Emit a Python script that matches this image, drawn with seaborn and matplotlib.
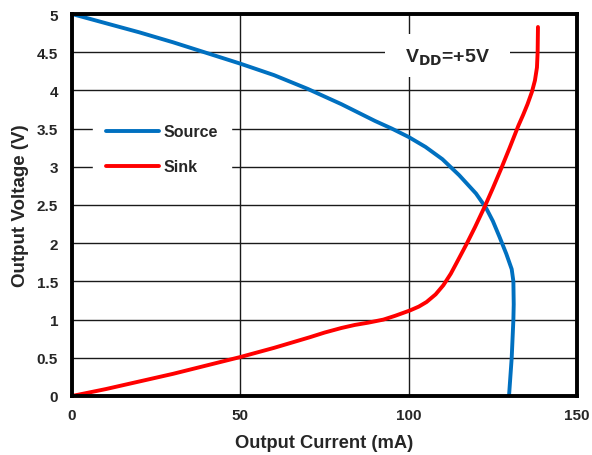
import numpy as np
import pandas as pd
import matplotlib
matplotlib.use("Agg")
import matplotlib.pyplot as plt
from matplotlib.patches import Rectangle
import seaborn as sns

# Source curve: output current (mA) vs output voltage (V)
source_current = [0, 10, 20, 30, 40, 50, 60, 70, 80, 90, 95, 100, 105, 110, 115, 120, 123, 125,
                  127, 129, 130.6, 131.1, 131.2, 131.1, 130.6, 129.8]
source_voltage = [5.0, 4.88, 4.76, 4.63, 4.49, 4.35, 4.2, 4.02, 3.82, 3.6, 3.5, 3.39, 3.26, 3.1,
                  2.89, 2.65, 2.46, 2.29, 2.08, 1.86, 1.66, 1.5, 1.2, 1.0, 0.5, 0.0]

# Sink curve
sink_current = [0, 10, 20, 30, 40, 50, 60, 70.7, 75, 80, 84, 88, 92.5, 96, 100.4, 103, 105.3,
                108, 110.3, 112.5, 114.2, 117.2, 119.7, 122.7, 125, 127.6, 130, 132.6, 134,
                135.3, 136.6, 137.5, 138.1, 138.3, 138.4]
sink_voltage = [0.0, 0.09, 0.19, 0.29, 0.4, 0.51, 0.63, 0.77, 0.83, 0.89, 0.93, 0.96, 1.0, 1.05,
                1.12, 1.17, 1.23, 1.33, 1.45, 1.6, 1.74, 1.99, 2.21, 2.49, 2.72, 2.99, 3.25,
                3.54, 3.68, 3.82, 3.98, 4.13, 4.3, 4.5, 4.83]

x_ticks = [0, 50, 100, 150]
y_ticks = [0, 0.5, 1, 1.5, 2, 2.5, 3, 3.5, 4, 4.5, 5]
y_tick_labels = ["0", "0.5", "1", "1.5", "2", "2.5", "3", "3.5", "4", "4.5", "5"]

sns.set_theme(style="white")
plt.rcParams["font.family"] = ["Liberation Sans", "DejaVu Sans"]
plt.rcParams["font.weight"] = "bold"

fig = plt.figure(figsize=(5.92, 4.56), dpi=100)
ax = fig.add_axes([0.1216, 0.1294, 0.8531, 0.8377])

src = pd.DataFrame({"current": source_current, "voltage": source_voltage})
snk = pd.DataFrame({"current": sink_current, "voltage": sink_voltage})

sns.lineplot(data=src, x="current", y="voltage", sort=False, estimator=None,
             color="#0070C0", linewidth=2.8, label="Source", ax=ax, zorder=3,
             solid_capstyle="round", solid_joinstyle="round")
sns.lineplot(data=snk, x="current", y="voltage", sort=False, estimator=None,
             color="#FF0000", linewidth=2.8, label="Sink", ax=ax, zorder=3,
             solid_capstyle="round", solid_joinstyle="round")

ax.set_xlim(0, 150)
ax.set_ylim(0, 5)
ax.set_xticks(x_ticks)
ax.set_xticklabels([str(t) for t in x_ticks])
ax.set_yticks(y_ticks)
ax.set_yticklabels(y_tick_labels)
ax.tick_params(axis="y", length=0, pad=10, labelsize=11)
ax.tick_params(axis="x", length=0, pad=9, labelsize=11)
for lbl in ax.get_xticklabels() + ax.get_yticklabels():
    lbl.set_fontweight("bold")

ax.grid(True, color="#1a1a1a", linewidth=1.0)
ax.set_axisbelow(True)
for side in ["left", "right", "top", "bottom"]:
    ax.spines[side].set_visible(True)
    ax.spines[side].set_color("black")
    ax.spines[side].set_linewidth(2.8)
    ax.spines[side].set_zorder(5)

ax.set_xlabel("Output Current (mA)", fontsize=13.2, fontweight="bold", labelpad=8)
ax.set_ylabel("Output Voltage (V)", fontsize=13.5, fontweight="bold", labelpad=6)

leg = ax.legend(loc="center left", bbox_to_anchor=(0.042, 0.646), frameon=True,
                facecolor="white", edgecolor="white", framealpha=1.0,
                fancybox=False, fontsize=11.5, handlelength=3.3,
                handletextpad=0.3, labelspacing=1.25, borderpad=0.8,
                borderaxespad=0)
for t in leg.get_texts():
    t.set_fontweight("bold")
leg.set_zorder(4)

# white panel behind the supply annotation
ax.add_patch(Rectangle((0.620, 0.835), 0.247, 0.113, transform=ax.transAxes,
                       facecolor="white", edgecolor="none", zorder=2))
ax.text(0.7436, 0.889, r"V$_{\mathbf{DD}}$=+5V", transform=ax.transAxes,
        ha="center", va="center", fontsize=14, fontweight="bold", zorder=4)

fig.savefig("out.png", dpi=100)
